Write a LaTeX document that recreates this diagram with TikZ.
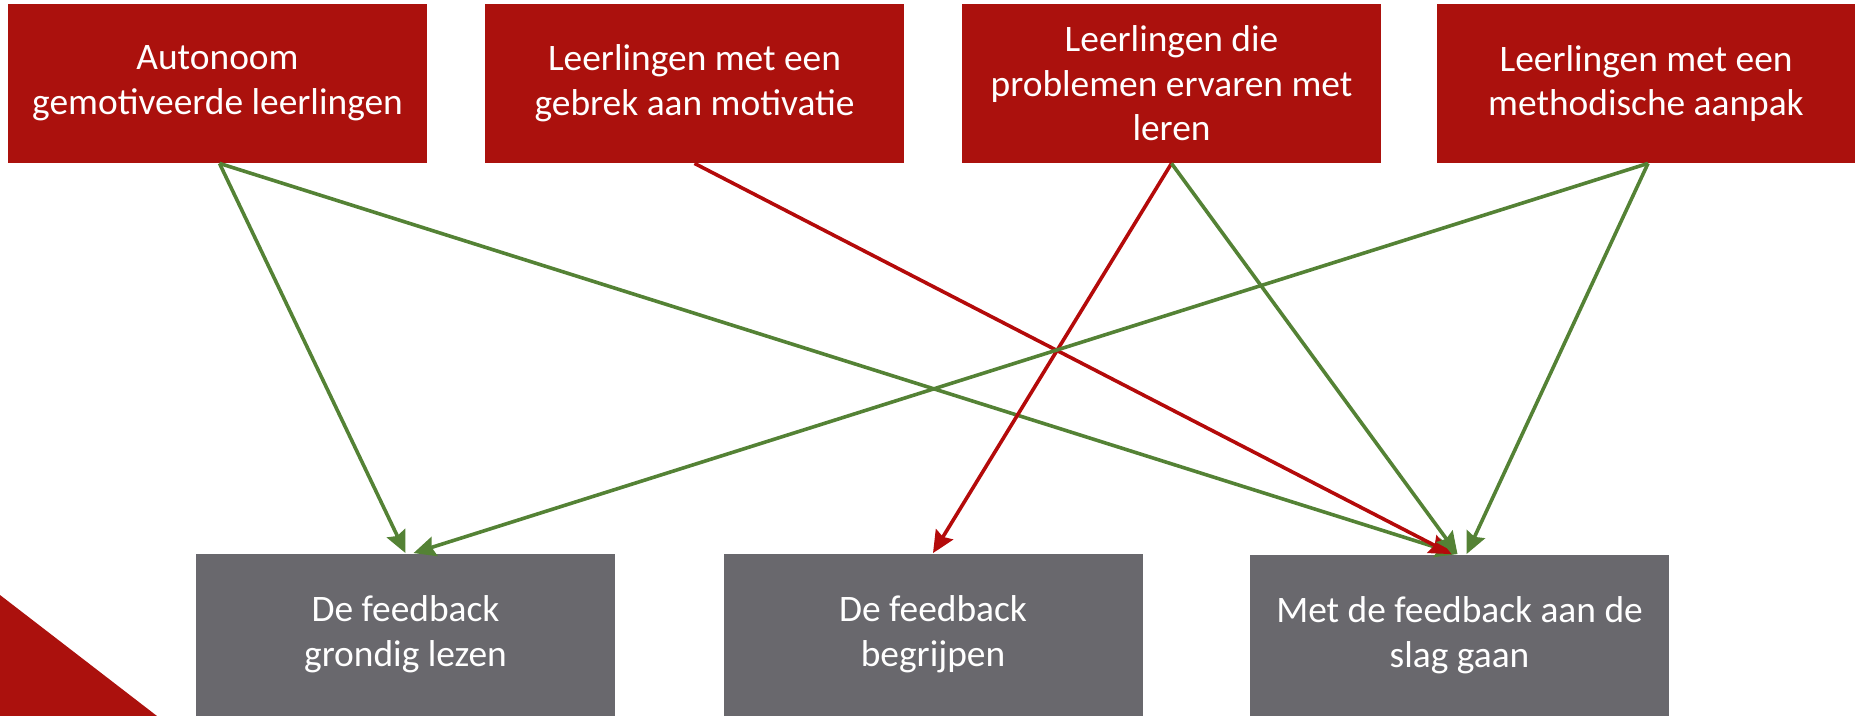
\documentclass[tikz,border=0pt]{standalone}
\usepackage{fontspec}
\setmainfont{Carlito}
\usetikzlibrary{arrows.meta}

\definecolor{boxred}{HTML}{AB110D}
\definecolor{boxgrey}{HTML}{69686D}
\definecolor{arrowgreen}{HTML}{548235}
\definecolor{arrowred}{HTML}{B40A0A}

\tikzset{
	groep/.style={fill=boxred, text=white, minimum width=209.5pt, minimum height=79.5pt, align=center, inner sep=0pt, font=\fontsize{18.7}{22.3}\selectfont},
	stap/.style={fill=boxgrey, text=white, minimum width=209.5pt, minimum height=81pt, align=center, inner sep=0pt, font=\fontsize{18.7}{22.3}\selectfont},
	pijl/.style={line width=1.8pt, -{Stealth[length=11pt,width=10pt,inset=1.5pt]}},
}

\begin{document}
\begin{tikzpicture}[x=0.5pt, y=-0.5pt]
		\useasboundingbox (0,0) rectangle (1855,716);
		\fill[boxred] (0,595) -- (157,716) -- (0,716) -- cycle;

		\node[groep] (auto) at (217.5,83.5) {Autonoom\\gemotiveerde leerlingen};
		\node[groep] (gebrek) at (694.5,83.5) {Leerlingen met een\\gebrek aan motivatie};
		\node[groep] (probl) at (1171.5,83.5) {Leerlingen die\\problemen ervaren met\\leren};
		\node[groep] (method) at (1646,83.5) {Leerlingen met een\\methodische aanpak};

		\node[stap] (lezen) at (405.5,634.5) {De feedback\\grondig lezen};
		\node[stap] (begrijpen) at (933,634.5) {De feedback\\begrijpen};
		\node[stap] (aanslag) at (1459.5,635.5) {Met de feedback aan de\\slag gaan};

		\draw[pijl, arrowgreen] ([xshift=1pt]auto.south) -- ([xshift=0pt]lezen.north);
		\draw[pijl, arrowgreen] ([xshift=1pt]auto.south) -- ([xshift=-1pt]aanslag.north);
		\draw[pijl, arrowred] (gebrek.south) -- ([xshift=-4pt]aanslag.north);
		\draw[pijl, arrowred] (probl.south) -- (begrijpen.north);
		\draw[pijl, arrowgreen] (probl.south) -- ([xshift=-1pt]aanslag.north);
		\draw[pijl, arrowgreen] ([xshift=1pt]method.south) -- ([xshift=4pt]lezen.north);
		\draw[pijl, arrowgreen] ([xshift=1pt]method.south) -- ([xshift=3.5pt]aanslag.north);
	\end{tikzpicture}
\end{document}
